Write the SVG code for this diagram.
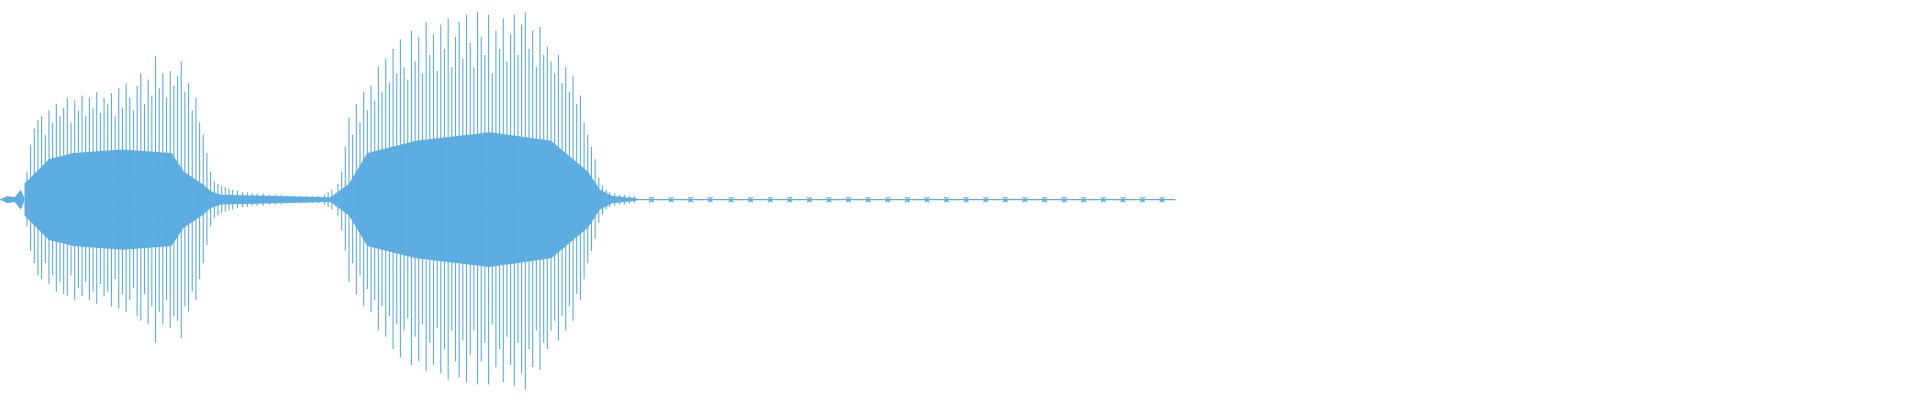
<svg xmlns="http://www.w3.org/2000/svg" width="1920" height="400" viewBox="0 0 1920 400">
<style>.w{stroke:#5DADE2;fill:none;stroke-width:0.9}.f{fill:#5DADE2;stroke:none}</style>
<rect width="1920" height="400" fill="#fff"/>
<g transform="scale(1.2245)">
<path class="w" d="M0 163H960" stroke-width="0.6"/>
<path class="f" d="M0 163L6 160 12 161 17 155 20 162 20 164 17 171 12 165 6 166Z"/>
<path class="f" d="M20 150L40 130 60 125 100 122 140 125 150 140 165 150 172 156 180 159 270 161 285 150 300 125 340 115 400 108 450 115 480 140 490 155 500 160 520 162 520 164 500 166 490 171 480 186 450 211 400 218 340 211 300 201 285 176 270 165 180 167 172 170 165 176 150 186 140 201 100 204 60 201 40 196 20 176Z"/>
<path class="w" d="M22 140V185M25 118V205M28 105V215M31 98V225M34 95V228M37 110V215M40 90V232M43 100V225M46 85V238M49 95V230M52 88V240M55 80V242M58 100V225M61 82V245M64 90V235M67 78V242M70 95V230M73 80V245M76 88V238M79 75V248M82 92V232M85 80V242M88 85V238M91 76V250M94 95V228M97 72V252M100 88V240M103 68V255M106 80V245M109 90V235M112 70V258M115 60V262M118 85V240M121 65V265M124 78V250M127 46V280M130 72V255M133 60V265M136 80V245M139 58V268M142 70V258M145 62V262M148 50V276M151 75V250M154 68V255M157 90V238M160 80V245M163 100V228M166 110V215M169 125V200M172 140V185M175 148V178M178 150V176M181 152V174M184 153V173M187 154V172M190 155V171M194 156V170M198 157V169M202 157V169M206 158V168M210 158V168M215 158V168M220 159V167M225 159V167M230 159V167M235 160V166M240 160V166M245 160V166M250 160V166M255 160V166M260 160V166M265 159V167M268 157V169M271 155V171M274 158V168"/>
<path class="w" d="M276 150V176M279 140V188M282 120V205M285 96V230M288 110V215M291 85V240M294 100V225M297 75V250M300 90V236M303 70V255M306 82V245M309 55V270M312 75V250M315 48V275M318 68V258M321 40V285M324 60V265M327 32V292M330 55V270M333 65V260M336 25V298M339 50V275M342 30V295M345 60V265M348 18V303M351 45V280M354 28V298M357 58V268M360 20V305M363 40V285M366 15V310M369 55V270M372 30V295M375 18V308M378 48V278M381 12V312M384 35V290M387 55V270M390 10V314M393 30V295M396 45V280M399 12V314M402 60V265M405 25V300M408 40V285M411 15V312M414 50V275M417 28V298M420 12V315M423 45V280M426 20V305M429 10V318M432 40V285M435 25V300M438 55V270M441 22V302M444 45V280M447 38V285M450 50V270M453 60V262M456 45V278M459 68V258M462 55V270M465 75V250M468 62V262M471 85V240M474 78V245M477 100V228M480 110V215M483 120V205M486 130V195M489 145V182M492 152V175M495 155V171M498 157V169M502 158V168M506 159V167M510 159V167M514 160V166M518 160V166"/>
<path class="w" d="M530 161L534 163 530 165M534 161L530 163 534 165M546 161L550 163 546 165M550 161L546 163 550 165M562 161L566 163 562 165M566 161L562 163 566 165M578 161L582 163 578 165M582 161L578 163 582 165M595 161L599 163 595 165M599 161L595 163 599 165M611 161L615 163 611 165M615 161L611 163 615 165M627 161L631 163 627 165M631 161L627 163 631 165M643 161L647 163 643 165M647 161L643 163 647 165M659 161L663 163 659 165M663 161L659 163 663 165M675 161L679 163 675 165M679 161L675 163 679 165M691 161L695 163 691 165M695 161L691 163 695 165M707 161L711 163 707 165M711 161L707 163 711 165M723 161L727 163 723 165M727 161L723 163 727 165M739 161L743 163 739 165M743 161L739 163 743 165M755 161L759 163 755 165M759 161L755 163 759 165M771 161L775 163 771 165M775 161L771 163 775 165M787 161L791 163 787 165M791 161L787 163 791 165M803 161L807 163 803 165M807 161L803 163 807 165M819 161L823 163 819 165M823 161L819 163 823 165M835 161L839 163 835 165M839 161L835 163 839 165M851 161L855 163 851 165M855 161L851 163 855 165M867 161L871 163 867 165M871 161L867 163 871 165M883 161L887 163 883 165M887 161L883 163 887 165M899 161L903 163 899 165M903 161L899 163 903 165M915 161L919 163 915 165M919 161L915 163 919 165M931 161L935 163 931 165M935 161L931 163 935 165M947 161L951 163 947 165M951 161L947 163 951 165"/>
</g>
</svg>
